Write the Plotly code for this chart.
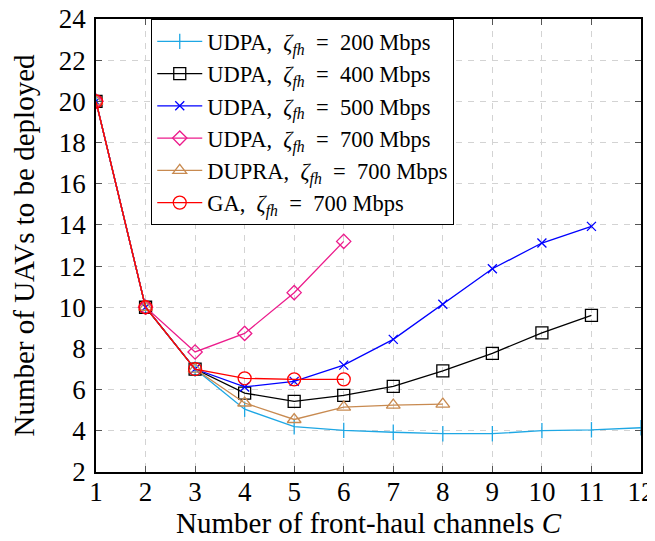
import plotly.graph_objects as go

# ---- data ----
x_200 = [1, 2, 3, 4, 5, 6, 7, 8, 9, 10, 11, 12]
y_200 = [20, 10, 7, 5.05, 4.2, 4.02, 3.93, 3.86, 3.86, 4.01, 4.05, 4.15]

x_400 = [1, 2, 3, 4, 5, 6, 7, 8, 9, 10, 11]
y_400 = [20, 10, 7, 5.83, 5.43, 5.72, 6.16, 6.91, 7.76, 8.76, 9.61]

x_500 = [1, 2, 3, 4, 5, 6, 7, 8, 9, 10, 11]
y_500 = [20, 10, 7, 6.13, 6.4, 7.19, 8.44, 10.15, 11.87, 13.12, 13.93]

x_700 = [1, 2, 3, 4, 5, 6]
y_700 = [20, 10, 7.83, 8.73, 10.71, 13.2]

x_dupra = [1, 2, 3, 4, 5, 6, 7, 8]
y_dupra = [20, 10, 7, 5.35, 4.55, 5.15, 5.25, 5.3]

x_ga = [1, 2, 3, 4, 5, 6]
y_ga = [20, 10, 7, 6.55, 6.5, 6.5]

ZETA = "<i>ζ<sub>fh</sub></i>"
EQ = "&nbsp;&nbsp;=&nbsp;&nbsp;"
names = [
    f"UDPA,&nbsp; {ZETA}{EQ}200 Mbps",
    f"UDPA,&nbsp; {ZETA}{EQ}400 Mbps",
    f"UDPA,&nbsp; {ZETA}{EQ}500 Mbps",
    f"UDPA,&nbsp; {ZETA}{EQ}700 Mbps",
    f"DUPRA,&nbsp; {ZETA}{EQ}700 Mbps",
    f"GA,&nbsp; {ZETA}{EQ}700 Mbps",
]
x_ticks = list(range(1, 13))
y_ticks = list(range(2, 25, 2))

series = [
    (x_200, y_200, "#1ea7e4", "line-ns-open", 11),
    (x_400, y_400, "#000000", "square-open", 12),
    (x_500, y_500, "#0000ff", "x-thin-open", 9),
    (x_700, y_700, "#ec1c8c", "diamond-open", 11),
    (x_dupra, y_dupra, "#c88a50", "triangle-up-open", 12),
    (x_ga, y_ga, "#ff0000", "circle-open", 13),
]

fig = go.Figure()
for (xs, ys, col, sym, sz), nm in zip(series, names):
    fig.add_trace(go.Scatter(
        x=xs, y=ys, name=nm, mode="lines+markers",
        line=dict(color=col, width=1.3),
        marker=dict(symbol=sym, size=sz, color=col,
                    line=dict(color=col, width=1.3)),
    ))

font_family = "Liberation Serif"
axis_common = dict(
    showline=True, linecolor="black", linewidth=1.5, mirror="ticks",
    ticks="inside", ticklen=6, tickcolor="#555555", tickwidth=1.2,
    showgrid=True, gridcolor="#d3d3d3", gridwidth=1, griddash="6px,6px",
    zeroline=False, automargin=False, ticklabeloverflow="allow",
    tickfont=dict(family=font_family, size=27, color="black"),
)

# page body adds an 8px offset; margins compensate so the plot lands
# at screen x 96..641, y 19..472
fig.update_layout(
    width=655, height=541,
    margin=dict(l=88, r=22, t=11, b=77),
    paper_bgcolor="white", plot_bgcolor="white",
    font=dict(family=font_family, color="black"),
    showlegend=True,
    legend=dict(
        x=0.101, y=1.0, xanchor="left", yanchor="top",
        bgcolor="white", bordercolor="black", borderwidth=1.2,
        font=dict(family=font_family, size=22.5, color="black"),
        itemwidth=45, tracegroupgap=0,
    ),
    xaxis=dict(
        range=[1, 12], tickvals=x_ticks, ticktext=[str(v) for v in x_ticks],
        ticklabelstandoff=-5,
        title=dict(text="Number of front-haul channels <i>C</i>",
                   font=dict(family=font_family, size=29), standoff=6),
        **axis_common,
    ),
    yaxis=dict(
        range=[2, 24], tickvals=y_ticks, ticktext=[str(v) for v in y_ticks],
        ticklabelstandoff=3,
        title=dict(text="Number of UAVs to be deployed",
                   font=dict(family=font_family, size=29), standoff=20),
        **axis_common,
    ),
)

fig.write_html("out.html")
